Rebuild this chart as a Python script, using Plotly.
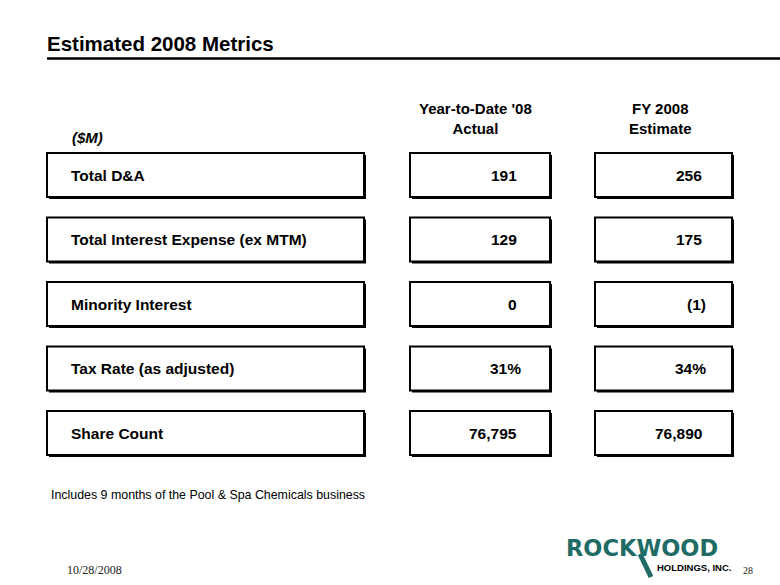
import plotly.graph_objects as go

# slide data
title = "Estimated 2008 Metrics"
unit_label = "($M)"
col_headers = ["Year-to-Date '08<br>Actual", "FY 2008<br>Estimate"]
metrics = ["Total D&A", "Total Interest Expense (ex MTM)", "Minority Interest",
           "Tax Rate (as adjusted)", "Share Count"]
ytd_actual = ["191", "129", "0", "31%", "76,795"]
fy_estimate = ["256", "175", "(1)", "34%", "76,890"]
footnote = "Includes 9 months of the Pool & Spa Chemicals business"
slide_date = "10/28/2008"
page_no = "28"

SANS = "Liberation Sans, Arial, sans-serif"
SERIF = "Liberation Serif, Times New Roman, serif"
TEAL = "#1f6b65"

W, H = 780, 585
fig = go.Figure()
# invisible trace so the axes exist
fig.add_trace(go.Scatter(x=[0, W], y=[0, H], mode="markers",
                         marker=dict(opacity=0), hoverinfo="skip", showlegend=False))

shapes = []
annots = []

def box(x0, x1, y0, y1):
    # shadow then box
    shapes.append(dict(type="rect", x0=x0 + 2, x1=x1 + 2, y0=y0 + 2, y1=y1 + 2,
                       fillcolor="black", line=dict(width=0)))
    shapes.append(dict(type="rect", x0=x0, x1=x1, y0=y0, y1=y1,
                       fillcolor="white", line=dict(color="black", width=2)))

def text(x, y, s, size, anchor="left", color="black", family=SANS):
    annots.append(dict(x=x, y=y, xref="x", yref="y", text=s, showarrow=False,
                       xanchor=anchor, yanchor="middle", align="center",
                       font=dict(family=family, size=size, color=color)))

# title + rule
text(45, 43, "<b>" + title + "</b>", 20.5)
shapes.append(dict(type="line", x0=47, x1=W, y0=58.5, y1=58.5,
                   line=dict(color="black", width=2.5)))

# headers
text(475, 118, "<b>" + col_headers[0] + "</b>", 15, anchor="center")
text(660, 118, "<b>" + col_headers[1] + "</b>", 15, anchor="center")
text(70, 137, "<b><i>" + unit_label + "</i></b>", 15)

row_top = 153
row_step = 64.5
box_h = 44
cols = [(47, 364), (410, 550), (595, 732)]
for i, m in enumerate(metrics):
    y0 = row_top + i * row_step
    y1 = y0 + box_h
    yc = (y0 + y1) / 2
    for c0, c1 in cols:
        box(c0, c1, y0, y1)
    text(69, yc, "<b>" + m + "</b>", 15.5)
    for xr, v in [(519, ytd_actual[i]), (704, fy_estimate[i])]:
        shift = 4 if v.endswith(")") or v.endswith("%") else 0
        text(xr + shift, yc, "<b>" + v + "</b>", 15.5, anchor="right")

text(49, 495, footnote, 12.4)
text(65, 570, slide_date, 12, family=SERIF, color="#222222")
text(741, 570, page_no, 10, family=SERIF, color="#222222")

# logo
shapes.append(dict(type="line", x0=640, x1=651, y0=554, y1=577,
                   line=dict(color=TEAL, width=5)))
text(564, 548, "<b>ROCKWOOD</b>", 22.5, color=TEAL, family="DejaVu Sans, sans-serif")
text(655, 567, "<b>HOLDINGS, INC.</b>", 9.5)

fig.update_layout(
    width=W, height=H,
    margin=dict(l=0, r=0, t=0, b=0),
    paper_bgcolor="white", plot_bgcolor="white",
    xaxis=dict(range=[0, W], visible=False, fixedrange=True),
    yaxis=dict(range=[H, 0], visible=False, fixedrange=True),
    shapes=shapes, annotations=annots,
    showlegend=False,
)
fig.write_html("out.html", config={"displayModeBar": False},
               post_script="document.body.style.margin='0';")
